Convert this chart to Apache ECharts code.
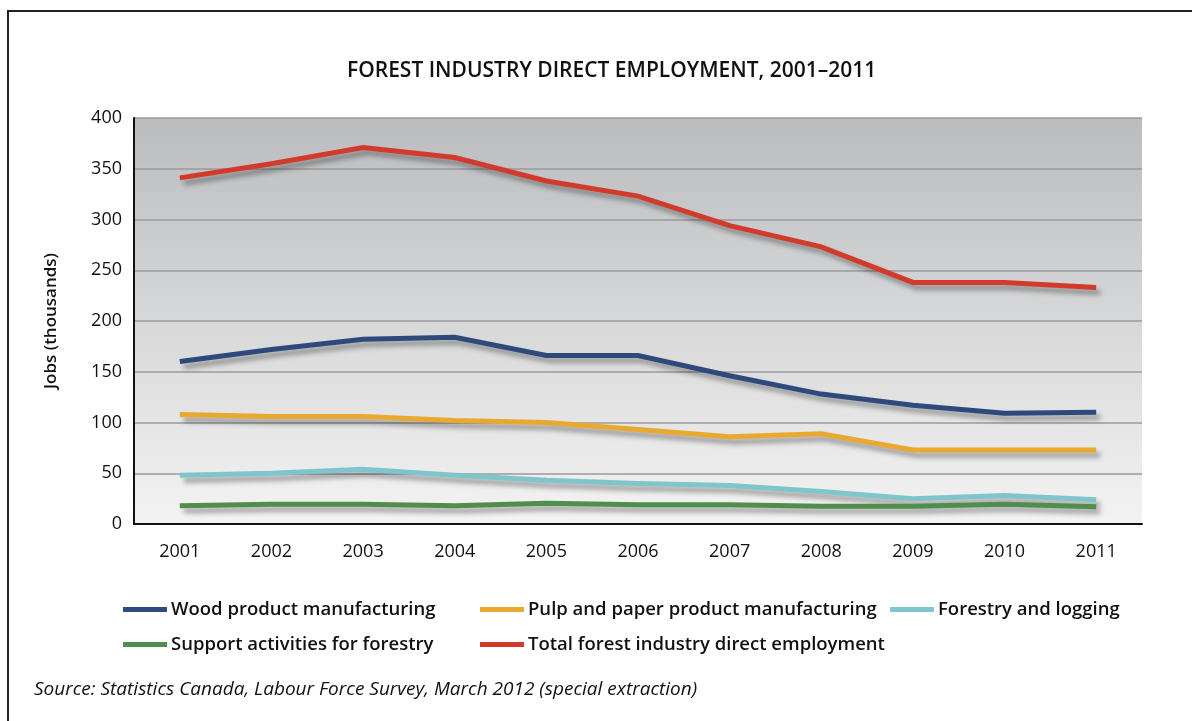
<!DOCTYPE html>
<html>
<head>
<meta charset="utf-8">
<script src="https://cdn.jsdelivr.net/npm/echarts@6/dist/echarts.min.js"></script>
<style>
  html, body { margin: 0; padding: 0; background: #fff; }
  #frame { position: absolute; left: 7px; top: 10px; width: 1300px; height: 800px;
           border-left: 2px solid #222; border-top: 2px solid #222; }
  #chart { position: absolute; left: 0; top: 0; width: 1192px; height: 721px; }
</style>
</head>
<body>
<div id="frame"></div>
<div id="chart"></div>
<script>
// Forest industry direct employment, thousands of jobs
const years = ['2001','2002','2003','2004','2005','2006','2007','2008','2009','2010','2011'];
const woodProduct = [160, 172, 182, 184, 166, 166, 146, 128, 117, 109, 110];
const pulpPaper   = [108, 106, 106, 102, 100, 93, 86, 89, 73, 73, 73];
const forestryLogging = [48, 50, 54, 48, 43, 40, 38, 32, 25, 28, 24];
const supportActivities = [18, 19.5, 19.5, 18, 20.5, 19, 19, 17.5, 17.5, 19.5, 17];
const totalEmployment = [341, 355, 371, 361, 338, 323, 294, 273, 238, 238, 233];
const yTicks = [0, 50, 100, 150, 200, 250, 300, 350, 400];

const FONT = '"Open Sans", "Noto Sans", sans-serif';

function mkSeries(name, data, color) {
  return {
    name: name, type: 'line', data: data, symbol: 'none', smooth: false,
    lineStyle: { color: color, width: 5, cap: 'butt', join: 'miter',
      shadowColor: 'rgba(0,0,0,0.35)', shadowBlur: 5, shadowOffsetX: 4, shadowOffsetY: 5 },
    itemStyle: { color: color }
  };
}

const legendCommon = {
  orient: 'vertical', icon: 'rect', itemWidth: 44, itemHeight: 5, itemGap: 16,
  textStyle: { fontFamily: FONT, fontSize: 18.5, fontWeight: 600, color: '#111', padding: [0, 0, 0, -1] },
  selectedMode: false
};

const chart = echarts.init(document.getElementById('chart'), null, { renderer: 'canvas' });
chart.setOption({
  animation: false,
  title: {
    text: 'FOREST INDUSTRY DIRECT EMPLOYMENT, 2001\u20132011',
    left: 342, top: 56,
    textStyle: { fontFamily: FONT, fontSize: 21, fontWeight: 600, color: '#111' }
  },
  grid: {
    left: 134, right: 50, top: 118, bottom: 197, show: true, borderWidth: 0,
    backgroundColor: { type: 'linear', x: 0, y: 0, x2: 0, y2: 1,
      colorStops: [{ offset: 0, color: '#bbbcbe' }, { offset: 1, color: '#f3f3f3' }] }
  },
  legend: [
    Object.assign({ left: 118, top: 595, data: ['Wood product manufacturing', 'Support activities for forestry'] }, legendCommon),
    Object.assign({ left: 475, top: 595, data: ['Pulp and paper product manufacturing', 'Total forest industry direct employment'] }, legendCommon),
    Object.assign({ left: 885, top: 595, data: ['Forestry and logging'] }, legendCommon)
  ],
  xAxis: {
    type: 'category', data: years, boundaryGap: true,
    axisLine: { lineStyle: { color: '#111', width: 2 } },
    axisTick: { show: false },
    axisLabel: { fontFamily: FONT, fontSize: 18, color: '#111', margin: 19 }
  },
  yAxis: {
    type: 'value', min: yTicks[0], max: yTicks[yTicks.length - 1], interval: 50,
    name: 'Jobs (thousands)', nameLocation: 'middle', nameGap: 74, nameRotate: 90,
    nameTextStyle: { fontFamily: FONT, fontSize: 17, fontWeight: 600, color: '#111' },
    axisLine: { show: true, lineStyle: { color: '#111', width: 2 } },
    axisTick: { show: false },
    axisLabel: { fontFamily: FONT, fontSize: 18, color: '#111', margin: 12 },
    splitLine: { lineStyle: { color: '#9a9a9a', width: 1.5 } }
  },
  series: [
    mkSeries('Wood product manufacturing', woodProduct, '#2e4a7d'),
    mkSeries('Pulp and paper product manufacturing', pulpPaper, '#e9a931'),
    mkSeries('Forestry and logging', forestryLogging, '#80c5cb'),
    mkSeries('Support activities for forestry', supportActivities, '#4f8e4c'),
    mkSeries('Total forest industry direct employment', totalEmployment, '#d23b2b')
  ],
  graphic: [{
    type: 'text', left: 34, top: 680,
    style: { text: 'Source: Statistics Canada, Labour Force Survey, March 2012 (special extraction)',
      font: 'italic 19px ' + FONT, fill: '#111' }
  }]
});
</script>
</body>
</html>
